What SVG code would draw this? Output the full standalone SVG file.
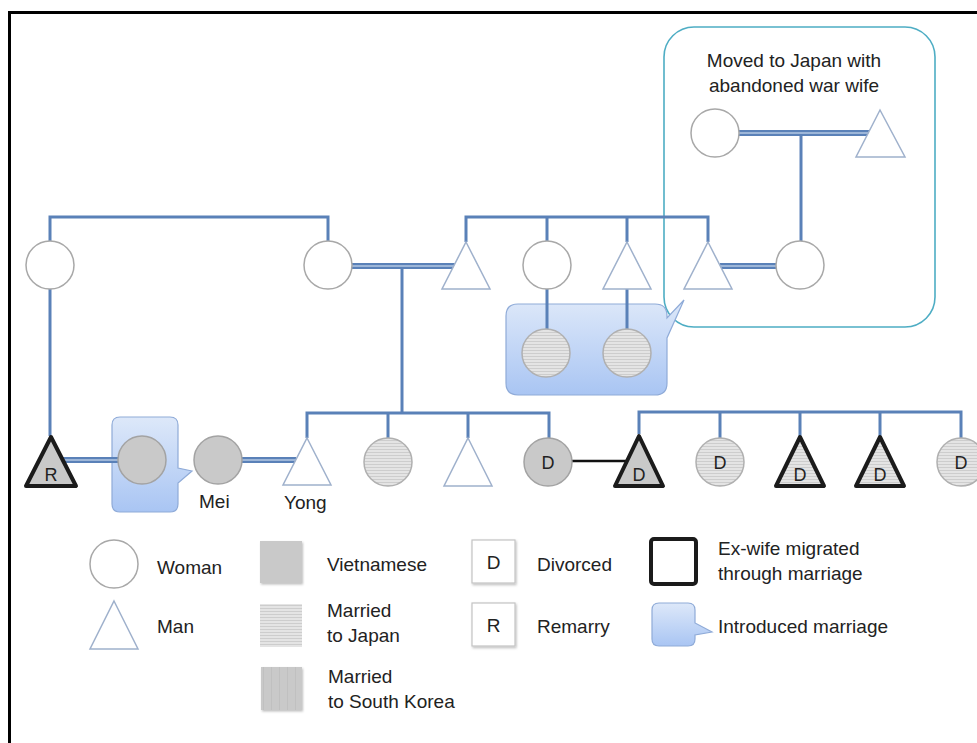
<svg xmlns="http://www.w3.org/2000/svg" width="977" height="743" viewBox="0 0 977 743">
<style>
text{font-family:"Liberation Sans",Arial,sans-serif;font-size:19px;fill:#222}
.c{text-anchor:middle}
.ln{fill:none;stroke:#5a81b8;stroke-width:3}
.mo{fill:none;stroke:#5a81b8;stroke-width:6}
.mi{fill:none;stroke:#b4c7e2;stroke-width:1.5}
.w{fill:#fff;stroke:#a8a8a8;stroke-width:1.5}
.m{fill:#fff;stroke:#9fb1cc;stroke-width:1.5}
.g{fill:#c9c9c9;stroke:#a3a3a3;stroke-width:1.5}
.s{fill:url(#stripes);stroke:#b0b0b0;stroke-width:1.5}
.tk{stroke:#1b1b1b;stroke-width:4;stroke-linejoin:round}
.bub{fill:url(#bg);stroke:#8fabd8;stroke-width:1.2}
.box{fill:#fff;stroke:#c4c4c4;stroke-width:1.2}
</style>
<defs>
<pattern id="stripes" patternUnits="userSpaceOnUse" width="6" height="3">
<rect width="6" height="3" fill="#e4e4e4"/>
<rect y="2" width="6" height="1" fill="#cdcdcd"/>
</pattern>
<pattern id="vstripes" patternUnits="userSpaceOnUse" width="8" height="6">
<rect width="8" height="6" fill="#c9c9c9"/>
<rect x="7" width="1" height="6" fill="#c0c0c0"/>
</pattern>
<linearGradient id="bg" x1="0" y1="0" x2="0" y2="1">
<stop offset="0" stop-color="#dde8f9"/>
<stop offset="1" stop-color="#a9c5f3"/>
</linearGradient>
<filter id="sh" x="-20%" y="-20%" width="150%" height="150%">
<feDropShadow dx="1" dy="1.5" stdDeviation="1" flood-color="#000" flood-opacity="0.25"/>
</filter>
</defs>

<rect width="977" height="743" fill="#fff"/>
<path d="M9.5 743 V12.5 H977" fill="none" stroke="#000" stroke-width="3"/>

<!-- groupings -->
<g id="abandoned-war-wife-box">
<rect x="664" y="27" width="271" height="300" rx="30" fill="none" stroke="#4eadc4" stroke-width="1.6"/>
<text class="c" x="794" y="67">Moved to Japan with</text>
<text class="c" x="794" y="92">abandoned war wife</text>
</g>
<g id="intro-bubble-1">
<path class="bub" d="M518 304 H655 Q667 304 667 316 V318 L684 300 L667 338 V383 Q667 395 655 395 H518 Q506 395 506 383 V316 Q506 304 518 304 Z"/>
</g>
<g id="intro-bubble-2">
<path class="bub" d="M120 417 H170 Q178 417 178 425 V468 L192 471 L178 483 V504 Q178 512 170 512 H120 Q112 512 112 504 V425 Q112 417 120 417 Z"/>
</g>

<g id="connectors">
<!-- descent lines -->
<path class="ln" d="M801 133 V241"/>
<path class="ln" d="M50 241 V217 H328 V241"/>
<path class="ln" d="M50 289 V436"/>
<path class="ln" d="M466 242 V217 H708 V242 M547 217 V241 M627 217 V242"/>
<path class="ln" d="M402 266 V413"/>
<path class="ln" d="M307 438 V413 H549 V438 M388 413 V438 M468 413 V438"/>
<path class="ln" d="M639 434 V412 H961 V438 M720 412 V438 M800 412 V436 M880 412 V436"/>
<path class="ln" d="M547 289 V329 M627 289 V329"/>
<!-- marriage lines -->
<path class="mo" d="M739 133 H869 M352 266 H455 M720 266 H776 M63 460 H118 M242 460 H296"/>
<path class="mi" d="M739 133 H869 M352 266 H455 M720 266 H776 M63 460 H118 M242 460 H296"/>
<path d="M572 461 H628" stroke="#111" stroke-width="2.5" fill="none"/>
</g>

<!-- top couple -->
<g id="war-wife"><circle class="w" cx="715" cy="133" r="24"/></g>
<g id="war-husband"><path class="m" d="M880 110 L905 157 H856 Z"/></g>

<!-- generation 1 -->
<g id="g1-woman-left"><circle class="w" cx="50" cy="265" r="24"/></g>
<g id="g1-woman-2"><circle class="w" cx="328" cy="265" r="24"/></g>
<g id="g1-man-3"><path class="m" d="M466 242 L490 289 H442 Z"/></g>
<g id="g1-woman-4"><circle class="w" cx="547" cy="265" r="24"/></g>
<g id="g1-man-5"><path class="m" d="M627 242 L651 289 H603 Z"/></g>
<g id="g1-man-6"><path class="m" d="M708 242 L732 289 H684 Z"/></g>
<g id="g1-woman-7"><circle class="w" cx="800" cy="265" r="24"/></g>

<!-- bubble children -->
<g id="japan-daughter-1"><circle class="s" cx="546" cy="353" r="24"/></g>
<g id="japan-daughter-2"><circle class="s" cx="627" cy="353" r="24"/></g>

<!-- bottom row -->
<g id="remarried-man"><path class="g tk" d="M51 437 L76 486 H26 Z"/><text class="c" x="51" y="481" style="font-size:18px">R</text></g>
<g id="viet-wife"><circle class="g" cx="142" cy="460" r="24"/></g>
<g id="mei"><circle class="g" cx="218" cy="460" r="24"/><text x="199" y="508">Mei</text></g>
<g id="yong"><path class="m" d="M307 438 L331 485 H283 Z"/><text x="284" y="509">Yong</text></g>
<g id="sibling-japan"><circle class="s" cx="388" cy="462" r="24"/></g>
<g id="sibling-man"><path class="m" d="M468 438 L492 486 H444 Z"/></g>
<g id="divorced-viet-wife"><circle class="g" cx="548" cy="462" r="24"/><text class="c" x="548" y="469" style="font-size:18px">D</text></g>
<g id="divorced-man-1"><path class="g tk" d="M639 436 L663 486 H615 Z"/><text class="c" x="639" y="481" style="font-size:18px">D</text></g>
<g id="divorced-woman-1"><circle class="s" cx="720" cy="462" r="24"/><text class="c" x="720" y="469" style="font-size:18px">D</text></g>
<g id="divorced-man-2"><path class="s tk" d="M800 437 L824 486 H776 Z"/><text class="c" x="800" y="481" style="font-size:18px">D</text></g>
<g id="divorced-man-3"><path class="s tk" d="M880 437 L904 486 H856 Z"/><text class="c" x="880" y="481" style="font-size:18px">D</text></g>
<g id="divorced-woman-2"><circle class="s" cx="961" cy="462" r="24"/><text class="c" x="961" y="469" style="font-size:18px">D</text></g>

<!-- legend -->
<g id="legend-woman"><circle class="w" cx="114" cy="564" r="24"/><text x="157" y="574">Woman</text></g>
<g id="legend-man"><path class="m" d="M114 601 L138 649 H90 Z"/><text x="157" y="633">Man</text></g>
<g id="legend-vietnamese"><rect x="260" y="541" width="42" height="42" fill="#c9c9c9" filter="url(#sh)"/><text x="327" y="571">Vietnamese</text></g>
<g id="legend-japan"><rect x="260" y="604" width="42" height="43" fill="url(#stripes)"/><text x="327" y="617">Married</text><text x="327" y="642">to Japan</text></g>
<g id="legend-korea"><rect x="261" y="667" width="41" height="43" fill="url(#vstripes)" filter="url(#sh)"/><text x="328" y="683">Married</text><text x="328" y="708">to South Korea</text></g>
<g id="legend-divorced"><rect class="box" x="472" y="540" width="43" height="43" filter="url(#sh)"/><text class="c" x="493.5" y="569">D</text><text x="537" y="571">Divorced</text></g>
<g id="legend-remarry"><rect class="box" x="472" y="603" width="43" height="43" filter="url(#sh)"/><text class="c" x="493.5" y="632">R</text><text x="537" y="633">Remarry</text></g>
<g id="legend-exwife"><rect x="651" y="539" width="45" height="45" rx="3" fill="#fff" stroke="#1b1b1b" stroke-width="4"/><text x="718" y="555">Ex-wife migrated</text><text x="718" y="580">through marriage</text></g>
<g id="legend-introduced"><path class="bub" d="M659 603 H688 Q695 603 695 610 V623 L712 632 L695 635 V639 Q695 646 688 646 H659 Q652 646 652 639 V610 Q652 603 659 603 Z"/><text x="718" y="633">Introduced marriage</text></g>
</svg>
